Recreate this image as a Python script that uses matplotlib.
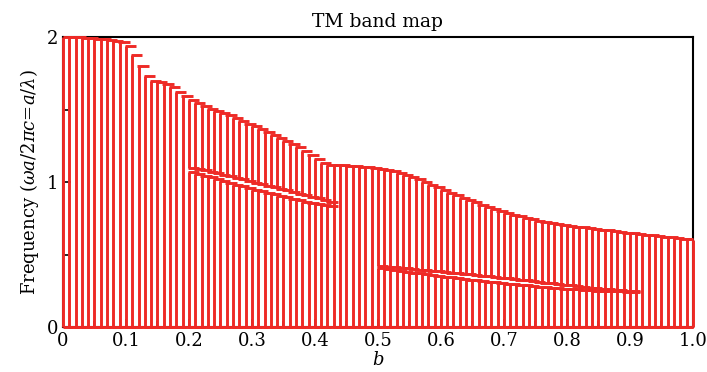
import numpy as np
import matplotlib.pyplot as plt

plt.rcParams['font.family'] = 'DejaVu Serif'
plt.rcParams['mathtext.fontset'] = 'dejavuserif'

# parameter b and top edge of the highest band
b = np.round(np.arange(0, 1.001, 0.01), 2)
top = [2.000, 2.000, 1.998, 1.996, 1.993, 1.990, 1.986, 1.981, 1.975, 1.965,
       1.940, 1.880, 1.800, 1.730, 1.700, 1.690, 1.675, 1.655, 1.625, 1.595,
       1.565, 1.545, 1.525, 1.505, 1.490, 1.475, 1.460, 1.440, 1.420, 1.400,
       1.385, 1.365, 1.345, 1.325, 1.305, 1.285, 1.265, 1.240, 1.215, 1.190,
       1.160, 1.130, 1.120, 1.118, 1.115, 1.113, 1.110, 1.107, 1.103, 1.098,
       1.092, 1.085, 1.075, 1.063, 1.050, 1.035, 1.018, 1.000, 0.982, 0.963,
       0.945, 0.927, 0.910, 0.893, 0.877, 0.860, 0.845, 0.830, 0.815, 0.800,
       0.787, 0.775, 0.763, 0.752, 0.742, 0.733, 0.724, 0.716, 0.709, 0.703,
       0.697, 0.692, 0.687, 0.682, 0.677, 0.672, 0.667, 0.662, 0.657, 0.652,
       0.648, 0.643, 0.638, 0.633, 0.628, 0.623, 0.618, 0.613, 0.608, 0.604,
       0.600]

# first gap (b = 0.20 ... 0.42)
gap1_b = np.round(np.arange(0.20, 0.421, 0.01), 2)
gap1_hi = [1.100, 1.092, 1.083, 1.073, 1.063, 1.052, 1.041, 1.030, 1.019, 1.008,
           0.997, 0.986, 0.975, 0.964, 0.953, 0.942, 0.931, 0.920, 0.909, 0.898,
           0.887, 0.876, 0.865]
gap1_lo = [1.072, 1.058, 1.045, 1.032, 1.019, 1.006, 0.994, 0.982, 0.970, 0.959,
           0.948, 0.937, 0.926, 0.915, 0.904, 0.894, 0.884, 0.874, 0.865, 0.857,
           0.849, 0.842, 0.836]

# second gap (b = 0.50 ... 0.90)
gap2_b = np.round(np.arange(0.50, 0.901, 0.01), 2)
gap2_hi = [0.420, 0.416, 0.412, 0.408, 0.404, 0.400, 0.396, 0.392, 0.388, 0.384,
           0.380, 0.376, 0.372, 0.367, 0.363, 0.359, 0.355, 0.350, 0.346, 0.341,
           0.337, 0.332, 0.327, 0.322, 0.317, 0.312, 0.307, 0.302, 0.297, 0.292,
           0.287, 0.282, 0.277, 0.272, 0.267, 0.263, 0.259, 0.256, 0.253, 0.251,
           0.249]
gap2_lo = [0.410, 0.402, 0.395, 0.388, 0.382, 0.376, 0.370, 0.364, 0.358, 0.352,
           0.347, 0.342, 0.337, 0.332, 0.327, 0.322, 0.317, 0.312, 0.308, 0.303,
           0.299, 0.295, 0.291, 0.287, 0.283, 0.279, 0.275, 0.272, 0.268, 0.265,
           0.262, 0.259, 0.256, 0.253, 0.251, 0.249, 0.247, 0.246, 0.245, 0.244,
           0.243]

red = '#ee2a26'
capw = 0.016
lw = 2.1

# build band segments (bottom, top) for every b
segs = []
for i, x in enumerate(b):
    edges = [0.0, top[i]]
    if x in gap1_b:
        j = list(gap1_b).index(x)
        edges = [0.0, gap1_lo[j], gap1_hi[j], top[i]]
    if x in gap2_b:
        j = list(gap2_b).index(x)
        edges = [0.0, gap2_lo[j], gap2_hi[j], top[i]]
    for k in range(0, len(edges), 2):
        segs.append((x, edges[k], edges[k + 1]))

fig = plt.figure(figsize=(7.07, 3.72), dpi=100)
ax = fig.add_axes([0.089, 0.121, 0.891, 0.779])

sx = np.array([s[0] for s in segs])
slo = np.array([s[1] for s in segs])
shi = np.array([s[2] for s in segs])
ax.vlines(sx, slo, shi, color=red, lw=lw, zorder=3, clip_on=False)
cap_l = sx - 0.002
cap_r = np.minimum(sx + capw, 1.0)
ax.hlines(shi, cap_l.clip(0), cap_r, color=red, lw=lw, zorder=3, clip_on=False)
ax.hlines(slo, cap_l.clip(0), cap_r, color=red, lw=lw, zorder=3, clip_on=False)

ax.set_xlim(0, 1.0)
ax.set_ylim(0, 2)
ax.set_xticks(np.arange(0, 1.01, 0.1))
ax.set_xticklabels(['0', '0.1', '0.2', '0.3', '0.4', '0.5', '0.6', '0.7', '0.8', '0.9', '1.0'])
ax.set_xticks(np.arange(0.05, 1.0, 0.1), minor=True)
ax.set_yticks([0, 1, 2])
ax.set_yticks([0.5, 1.5], minor=True)
ax.tick_params(which='both', direction='in', top=False, right=False,
               labelsize=13, width=1.2, color='black')
ax.tick_params(which='major', length=6)
ax.tick_params(which='minor', length=4)
for sp in ax.spines.values():
    sp.set_linewidth(1.5)
    sp.set_zorder(2.5)

ax.set_title('TM band map', fontsize=13.5, pad=7)
ax.set_xlabel('$b$', fontsize=13, labelpad=1)
ax.set_ylabel(r'Frequency ($\omega a/2\pi c$=$a/\lambda$)', fontsize=13, labelpad=4)

fig.savefig('out.png', dpi=100)
